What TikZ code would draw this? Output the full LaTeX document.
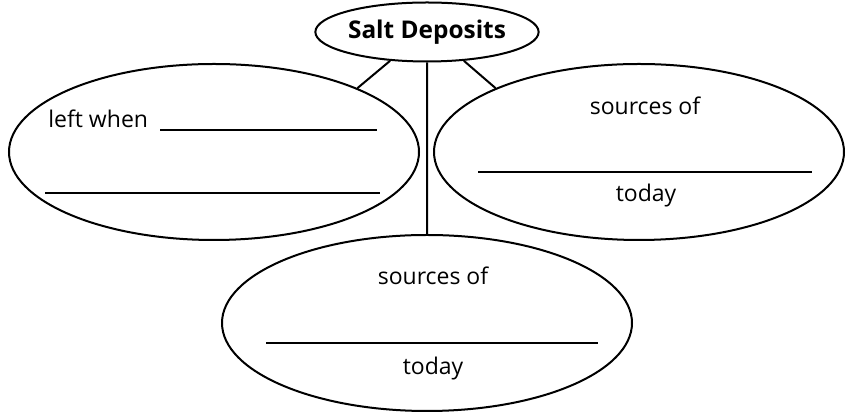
\documentclass[tikz,border=0pt]{standalone}
\usepackage{fontspec}
\setmainfont{Open Sans}
\usetikzlibrary{shapes.geometric}

\begin{document}
\begin{tikzpicture}[x=0.5pt, y=-0.5pt]
    \tikzstyle{bubble} = [draw, line width=1pt, ellipse, minimum width=205pt,
	minimum height=88pt, inner sep=0pt]
    \tikzstyle{title} = [draw, line width=1pt, ellipse, minimum width=100pt,
	minimum height=29.5pt, inner sep=0pt, font=\bfseries\fontsize{12.2}{14}\selectfont]
    \tikzstyle{words} = [inner sep=0pt, anchor=base, font=\fontsize{11.5}{13}\selectfont]
    \tikzstyle{blank} = [line width=0.6pt]

	\useasboundingbox (0,0) rectangle (852,415);

	\node[title] (salt) at (427,32) {Salt Deposits};
	\node[bubble] (left) at (214,152) {};
	\node[bubble] (right) at (639,152) {};
	\node[bubble] (bottom) at (427,323) {};

	\draw[line width=1pt]
		(salt.-142) -- (left.24)
		(salt.-38) -- (right.156)
		(salt.south) -- (bottom.north);

	% left bubble
	\node[words, anchor=base west] (when) at (48,128) {left when};
	\draw[blank] (160,130) -- (377,130);
	\draw[blank] (45,193) -- (380,193);

	% right bubble
	\node[words] (src1) at (645,115) {sources of};
	\draw[blank] (478,172) -- (812,172);
	\node[words] (day1) at (646,202) {today};

	% bottom bubble
	\node[words] (src2) at (433,285) {sources of};
	\draw[blank] (266,343) -- (598,343);
	\node[words] (day2) at (433,375) {today};
\end{tikzpicture}
\end{document}
